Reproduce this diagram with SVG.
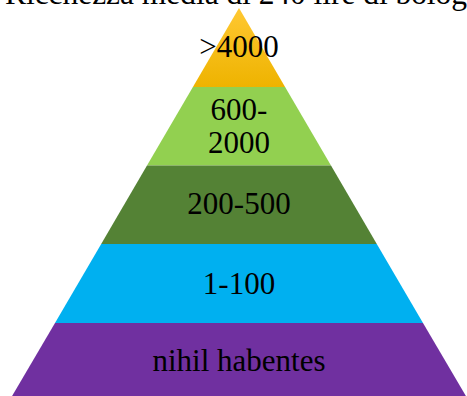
<svg xmlns="http://www.w3.org/2000/svg" width="467" height="396" viewBox="0 0 467 396">
<style>
text{font-family:"Liberation Serif","Times New Roman",serif;font-size:31px;fill:#000;text-anchor:middle}
</style>
<defs>
<linearGradient id="yel" x1="0" y1="0" x2="0" y2="1">
<stop offset="0" stop-color="#FFC832"/>
<stop offset="1" stop-color="#EEB300"/>
</linearGradient>
</defs>
<rect width="467" height="396" fill="#fff"/>
<text x="5" y="4" style="text-anchor:start;font-size:31.5px" textLength="462">Ricchezza media di 240 lire di bolog</text>
<g id="level1">
<polygon points="239,8 285.1,87 192.9,87" fill="url(#yel)"/>
<text x="239" y="57">&gt;4000</text>
</g>
<g id="level2">
<polygon points="192.9,87 285.1,87 331,165.5 147,165.5" fill="#92D050"/>
<text x="239" y="120">600-</text>
<text x="239" y="153">2000</text>
</g>
<g id="level3">
<polygon points="147,165.5 331,165.5 376.8,244 101.2,244" fill="#548235"/>
<text x="239" y="214">200-500</text>
</g>
<g id="level4">
<polygon points="101.2,244 376.8,244 423,323 55,323" fill="#00B0F0"/>
<text x="239" y="294">1-100</text>
</g>
<g id="level5">
<polygon points="55,323 423,323 466.5,397 11.5,397" fill="#7030A0"/>
<text x="239" y="371">nihil habentes</text>
</g>
<g id="connectors"/>
</svg>
